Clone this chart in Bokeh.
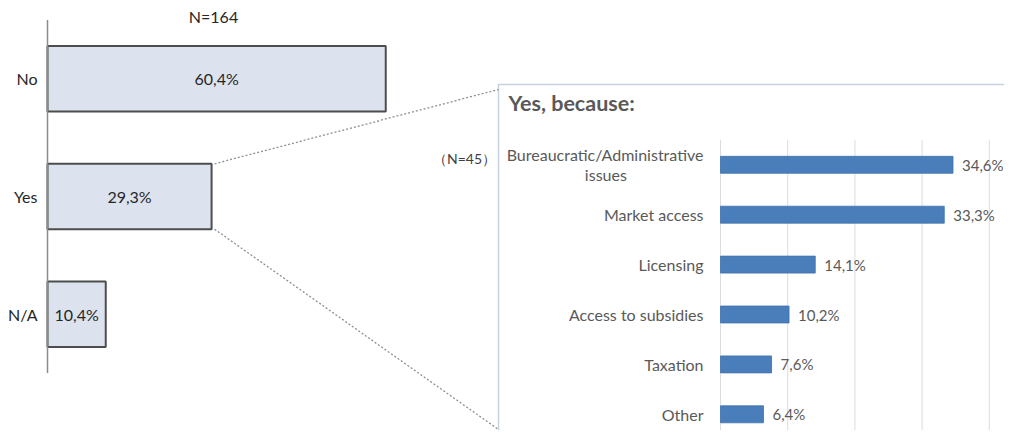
from bokeh.plotting import figure
from bokeh.models import Range1d, ColumnDataSource
from bokeh.core.properties import value
from bokeh.embed import file_html
from bokeh.resources import INLINE

# ---------------- data ----------------
main_cats = ["No", "Yes", "N/A"]
main_vals = [60.4, 29.3, 10.4]
main_n = "N=164"

why_title = "Yes, because:"
why_n = "（N=45）"
why_cats = ["Bureaucratic/Administrative\nissues", "Market access", "Licensing",
            "Access to subsidies", "Taxation", "Other"]
why_vals = [34.6, 33.3, 14.1, 10.2, 7.6, 6.4]
why_grid = [0, 10, 20, 30, 40]

def pct(v):
    return f"{v:.1f}".replace(".", ",") + "%"

# ---------------- layout (pixels inside the figure) ----------------
W, H = 1004, 430
FONT = "Lato"
FS = "16px"

# left panel
L_X0, L_SC = 47.0, 5.6          # px of 0 %, px per %
L_Y0, L_STEP = 78.3, 117.7      # centre of first bar, spacing
L_BAR_H = 0.556
# right panel
R_X0, R_SC = 720.0, 6.72
R_Y0, R_STEP = 164.3, 49.9
R_BAR_H = 0.34
BOX_L, BOX_T = 498.0, 84.0

p = figure(width=W, height=H, output_backend="svg", toolbar_location=None,
           x_range=Range1d(0, W), y_range=Range1d(H, 0),
           min_border=0, outline_line_color=None,
           x_axis_type=None, y_axis_type=None)
p.grid.visible = False
p.background_fill_color = "white"
p.border_fill_color = "white"

p.extra_x_ranges["lx"] = Range1d(-L_X0 / L_SC, (W - L_X0) / L_SC)
p.extra_y_ranges["ly"] = Range1d((H - L_Y0) / L_STEP, -L_Y0 / L_STEP)
p.extra_x_ranges["rx"] = Range1d(-R_X0 / R_SC, (W - R_X0) / R_SC)
p.extra_y_ranges["ry"] = Range1d((H - R_Y0) / R_STEP, -R_Y0 / R_STEP)

def lx2px(v): return L_X0 + v * L_SC
def ly2px(i): return L_Y0 + i * L_STEP

# ---------------- right box ----------------
p.quad(left=[BOX_L], right=[W + 20], top=[BOX_T], bottom=[H + 20],
       fill_color="white", line_color="#c6d2e1", line_width=1.5)

# ---------------- connectors (Yes bar -> box) ----------------
yes_i = main_cats.index("Yes")
yes_v = main_vals[yes_i]
cx = lx2px(yes_v) + 3
p.segment(x0=[cx, cx], y0=[ly2px(yes_i - L_BAR_H / 2), ly2px(yes_i + L_BAR_H / 2)],
          x1=[BOX_L, BOX_L], y1=[BOX_T + 5, H - 1],
          line_color="#8a9096", line_width=1.3, line_dash="2 2")

# ---------------- left panel ----------------
li = list(range(len(main_cats)))
lsrc = ColumnDataSource(dict(y=li, v=main_vals, half=[v / 2 for v in main_vals],
                             cat=main_cats, lab=[pct(v) for v in main_vals],
                             zero=[0] * len(li)))
p.hbar(y="y", left=0, right="v", height=L_BAR_H, source=lsrc,
       x_range_name="lx", y_range_name="ly",
       fill_color="#dde3ee", line_color="#4d4d4d", line_width=2)
# axis line
p.segment(x0=[0], x1=[0], y0=[-0.5], y1=[len(li) - 1 + 0.5],
          x_range_name="lx", y_range_name="ly", line_color="#8c8c8c", line_width=1.5)
p.text(x="zero", y="y", text="cat", source=lsrc, x_range_name="lx", y_range_name="ly",
       x_offset=-10, text_align="right", text_baseline="middle",
       text_font=value(FONT), text_font_size=FS, text_color="#262626")
p.text(x="half", y="y", text="lab", source=lsrc, x_range_name="lx", y_range_name="ly",
       text_align="center", text_baseline="middle",
       text_font=value(FONT), text_font_size=FS, text_color="#262626")
p.text(x=[213], y=[16], text=[main_n], text_align="center", text_baseline="middle",
       text_font=value(FONT), text_font_size=FS, text_color="#262626")

# ---------------- right panel ----------------
ri = list(range(len(why_cats)))
rsrc = ColumnDataSource(dict(y=ri, v=why_vals, lab=[pct(v) for v in why_vals],
                             zero=[0] * len(ri)))
p.segment(x0=why_grid, x1=why_grid, y0=[-0.5] * len(why_grid), y1=[6] * len(why_grid),
          x_range_name="rx", y_range_name="ry", line_color="#dcdcdc", line_width=1)
p.hbar(y="y", left=0, right="v", height=R_BAR_H, source=rsrc,
       x_range_name="rx", y_range_name="ry",
       fill_color="#4a7ebb", line_color="#3f72ad", line_width=0.8)

# category labels: first line right-aligned, further lines centred under it
LAB_OFF = -17
LINE_GAP = 20.0 / R_STEP
first = dict(x=[], y=[], t=[])
extra = dict(x=[], y=[], t=[], off=[])
for i, c in enumerate(why_cats):
    lines = c.split("\n")
    n = len(lines)
    for k, ln in enumerate(lines):
        yy = i + (k - (n - 1) / 2) * LINE_GAP
        if k == 0:
            first["x"].append(0); first["y"].append(yy); first["t"].append(ln)
        else:
            est_w = len(lines[0]) * 0.452 * 16
            extra["x"].append(0); extra["y"].append(yy); extra["t"].append(ln)
            extra["off"].append(LAB_OFF - est_w / 2)
p.text(x="x", y="y", text="t", source=ColumnDataSource(first),
       x_range_name="rx", y_range_name="ry",
       x_offset=LAB_OFF, text_align="right", text_baseline="middle",
       text_font=value(FONT), text_font_size=FS, text_color="#595959")
if extra["t"]:
    p.text(x="x", y="y", text="t", x_offset="off", source=ColumnDataSource(extra),
           x_range_name="rx", y_range_name="ry",
           text_align="center", text_baseline="middle",
           text_font=value(FONT), text_font_size=FS, text_color="#595959")

p.text(x="v", y="y", text="lab", source=rsrc, x_range_name="rx", y_range_name="ry",
       x_offset=9, text_align="left", text_baseline="middle",
       text_font=value(FONT), text_font_size="15px", text_color="#595959")
p.text(x=[BOX_L + 10], y=[102], text=[why_title], text_align="left", text_baseline="middle",
       text_font=value(FONT), text_font_size="21.5px", text_font_style="bold",
       text_color="#595959")
p.text(x=[464], y=[158], text=[why_n], text_align="center", text_baseline="middle",
       text_font=value(FONT), text_font_size="14px", text_color="#404040")

open("out.html", "w").write(file_html(p, INLINE))
